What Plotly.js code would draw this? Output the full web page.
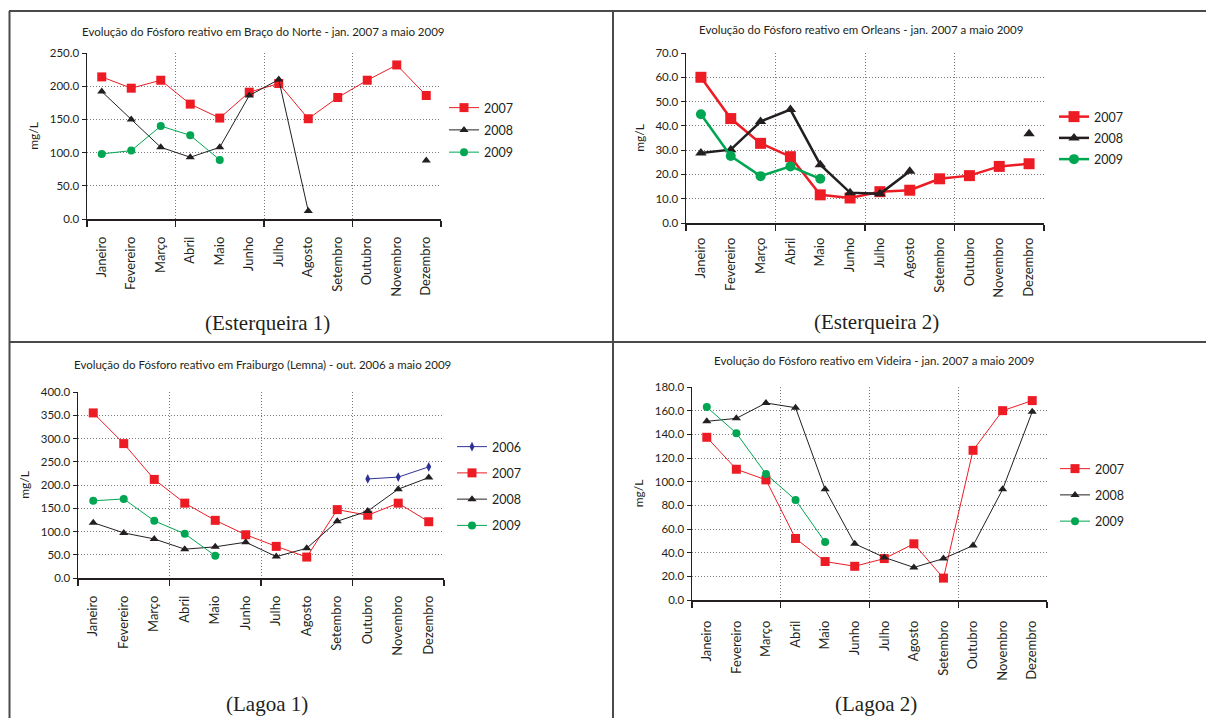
<!DOCTYPE html>
<html>
<head>
<meta charset="utf-8">
<script src="https://cdn.plot.ly/plotly-3.0.1.min.js"></script>
<style>html,body{margin:0;padding:0;background:#fff;}#chart{width:1206px;height:718px;}</style>
</head>
<body>
<div id="chart"></div>
<script>
// ---- Data ----
const months = ['Janeiro','Fevereiro','Março','Abril','Maio','Junho','Julho','Agosto','Setembro','Outubro','Novembro','Dezembro'];

// Esterqueira 1 - Braço do Norte
const bn2007 = [214, 197, 209, 173, 152, 191, 204, 151, 183, 209, 232, 186];
const bn2008 = [192, 150, 108, 93, 108, 186, 210, 12, null, null, null, 88];
const bn2009 = [98, 103, 140, 126, 89, null, null, null, null, null, null, null];

// Esterqueira 2 - Orleans
const or2007 = [60.0, 43.0, 32.8, 27.3, 11.6, 10.3, 12.9, 13.5, 18.2, 19.5, 23.3, 24.4];
const or2008 = [28.8, 30.2, 41.8, 46.7, 24.0, 12.5, 12.0, 21.3, null, null, null, 36.8];
const or2009 = [44.8, 27.6, 19.3, 23.3, 18.2, null, null, null, null, null, null, null];

// Lagoa 1 - Fraiburgo (Lemna)
const fr2006 = [null, null, null, null, null, null, null, null, null, 213, 217, 239];
const fr2007 = [355, 289, 212, 161, 124, 93, 68, 45, 147, 135, 161, 121];
const fr2008 = [119, 97, 84, 62, 67, 77, 46, 64, 122, 144, 191, 216];
const fr2009 = [166, 170, 123, 95, 48, null, null, null, null, null, null, null];

// Lagoa 2 - Videira
const vi2007 = [137.5, 110.5, 101.5, 52, 32.5, 28.5, 35, 47.5, 18.5, 126.5, 160, 168.5];
const vi2008 = [151, 153.5, 166.5, 162.5, 93.5, 47.5, 36, 27.5, 35, 46, 93.5, 159];
const vi2009 = [163, 141, 106.5, 84.5, 49, null, null, null, null, null, null, null];

const titles = [
  'Evolução do Fósforo reativo em Braço do Norte - jan. 2007 a maio 2009',
  'Evolução do Fósforo reativo em Orleans - jan. 2007 a maio 2009',
  'Evolução do Fósforo reativo em Fraiburgo (Lemna) - out. 2006 a maio 2009',
  'Evolução do Fósforo reativo em Videira - jan. 2007 a maio 2009'
];
const captions = ['(Esterqueira 1)', '(Esterqueira 2)', '(Lagoa 1)', '(Lagoa 2)'];
const yLabel = 'mg/L';

// ---- Styles ----
const W = 1206, H = 718;
const px = v => v / W;
const py = v => 1 - v / H;
const FONT = 'Lato, "Open Sans", sans-serif';
const INK = '#231F20';
const GRID = '#7a7a7a';
const RED = '#ED1C24', BLACK = '#231F20', GREEN = '#00A651', BLUE = '#2E3192';
const idx = months.map((_, i) => i);

function series(k, name, vals, color, symbol, size, lw) {
  const sfx = k === 1 ? '' : String(k);
  return {
    type: 'scatter', mode: 'lines+markers', name: name,
    x: idx, y: vals,
    xaxis: 'x' + sfx, yaxis: 'y' + sfx, legend: 'legend' + sfx,
    legendgroup: 'g' + k + name,
    line: {color: color, width: lw},
    marker: {color: color, symbol: symbol, size: size},
    connectgaps: false, cliponaxis: false
  };
}

const traces = [
  series(1, '2007', bn2007, RED, 'square', 9, 1),
  series(1, '2008', bn2008, BLACK, 'triangle-up', 8, 1),
  series(1, '2009', bn2009, GREEN, 'circle', 8, 1),

  series(2, '2007', or2007, RED, 'square', 11, 2.5),
  series(2, '2008', or2008, BLACK, 'triangle-up', 10, 2.5),
  series(2, '2009', or2009, GREEN, 'circle', 10, 2.5),

  series(3, '2006', fr2006, BLUE, 'diamond-tall', 7, 1),
  series(3, '2007', fr2007, RED, 'square', 9, 1),
  series(3, '2008', fr2008, BLACK, 'triangle-up', 8, 1),
  series(3, '2009', fr2009, GREEN, 'circle', 8, 1),

  series(4, '2007', vi2007, RED, 'square', 9, 1),
  series(4, '2008', vi2008, BLACK, 'triangle-up', 8, 1),
  series(4, '2009', vi2009, GREEN, 'circle', 8, 1)
];

// panel geometry in pixels: [left, right, top, bottom]
const panels = [
  {box: [87, 441, 53, 219], ymax: 250, dtick: 50, title: [263, 32], cap: [267, 323], leg: [444, 93], gap: 3, so: 11},
  {box: [686, 1044, 53, 223], ymax: 70, dtick: 10, title: [861, 29], cap: [876, 322], leg: [1054, 102], gap: 2, so: 8},
  {box: [78, 444, 392, 578], ymax: 400, dtick: 50, title: [262, 364], cap: [267, 704], leg: [452, 432], gap: 7, so: 11},
  {box: [692, 1047, 387, 600], ymax: 180, dtick: 20, title: [874, 361], cap: [876, 704], leg: [1055, 454], gap: 7, so: 14}
];

const layout = {
  width: W, height: H, autosize: false,
  margin: {l: 0, r: 0, t: 0, b: 0},
  paper_bgcolor: '#fff', plot_bgcolor: '#fff',
  font: {family: FONT, color: INK},
  showlegend: true,
  annotations: [], shapes: []
};

panels.forEach((p, i) => {
  const k = i + 1, sfx = k === 1 ? '' : String(k);
  const [l, r, t, b] = p.box;
  layout['xaxis' + sfx] = {
    domain: [px(l), px(r)], anchor: 'y' + sfx,
    range: [-0.5, 11.5], tickmode: 'array', tickvals: idx, ticktext: months,
    tickangle: -90, ticks: '', showgrid: false, zeroline: false,
    showline: true, linecolor: INK, linewidth: 1.5,
    tickfont: {family: FONT, size: 13, color: INK}, ticklabelstandoff: p.so,
    minor: {tickmode: 'array', tickvals: [-0.5, 2.5, 5.5, 8.5, 11.5], ticks: 'outside', ticklen: 6,
            tickcolor: INK, tickwidth: 1.2, showgrid: true, gridcolor: GRID, griddash: '1px,2px', gridwidth: 1},
    fixedrange: true
  };
  layout['yaxis' + sfx] = {
    domain: [py(b), py(t)], anchor: 'x' + sfx,
    range: [0, p.ymax], dtick: p.dtick, tick0: 0, tickformat: '.1f',
    ticks: 'outside', ticklen: 4, tickcolor: INK, showline: true, linecolor: INK, linewidth: 1.5,
    showgrid: true, gridcolor: GRID, griddash: '1px,2px', gridwidth: 1, zeroline: false,
    tickfont: {family: FONT, size: 11.5, color: INK},
    title: {text: yLabel, font: {family: FONT, size: 12, color: INK}, standoff: 8},
    fixedrange: true
  };
  layout['legend' + sfx] = {
    x: px(p.leg[0]), y: py(p.leg[1]), xanchor: 'left', yanchor: 'top',
    bgcolor: 'rgba(0,0,0,0)', font: {family: FONT, size: 12.5, color: INK},
    tracegroupgap: p.gap, itemwidth: 30
  };
  layout.annotations.push({
    text: titles[i], xref: 'paper', yref: 'paper', x: px(p.title[0]), y: py(p.title[1]),
    xanchor: 'center', yanchor: 'middle', showarrow: false,
    font: {family: FONT, size: 11.5, color: INK}
  });
  layout.annotations.push({
    text: captions[i], xref: 'paper', yref: 'paper', x: px(p.cap[0]), y: py(p.cap[1]),
    xanchor: 'center', yanchor: 'middle', showarrow: false,
    font: {family: '"Liberation Serif", "DejaVu Serif", serif', size: 21, color: INK}
  });
});

// frame lines separating the four panels
const frame = {color: '#4a4a4a', width: 2};
[
  [9, 11, 1206, 11],
  [9, 342, 1206, 342],
  [9.5, 11, 9.5, 718],
  [613, 11, 613, 718]
].forEach(s => layout.shapes.push({
  type: 'line', xref: 'paper', yref: 'paper',
  x0: px(s[0]), y0: py(s[1]), x1: px(s[2]), y1: py(s[3]), line: frame, layer: 'above'
}));

Plotly.newPlot('chart', traces, layout, {staticPlot: true, displayModeBar: false});
</script>
</body>
</html>
